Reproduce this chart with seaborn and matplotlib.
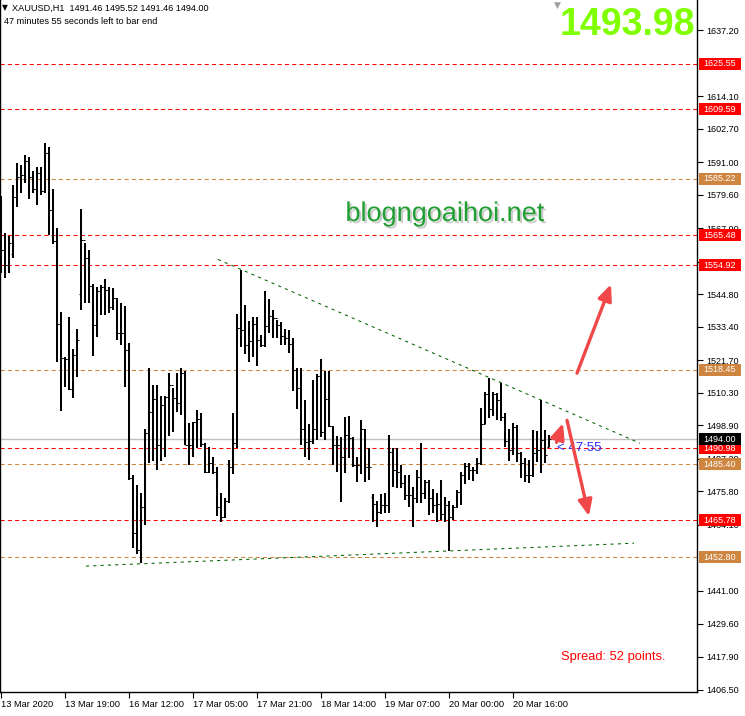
import matplotlib
matplotlib.use("Agg")
import matplotlib.pyplot as plt
import matplotlib.transforms as mtransforms
import matplotlib.patheffects as pe
from matplotlib.patches import Rectangle
import numpy as np
import pandas as pd
import seaborn as sns

# ── Config ──────────────────────────────────────────────────────────────────
W_PX, H_PX = 745, 716
PLOT_W_PX, PLOT_H_PX = 697, 692
PX_PER_USD = 2.858

# ── Data (XAUUSD H1) ────────────────────────────────────────────────────────
OPEN = [
    1554.0, 1560.2, 1555.0, 1559.0, 1578.7, 1585.7, 1586.7, 1591.3, 1585.7, 1581.8,
    1587.1, 1581.1, 1594.4, 1574.2, 1563.3, 1534.3, 1522.4, 1522.0, 1511.6, 1523.4,
    1545.0, 1563.7, 1557.4, 1547.6, 1534.0, 1545.8, 1547.2, 1546.2, 1540.2, 1543.4,
    1531.1, 1531.1, 1525.2, 1480.4, 1461.2, 1455.3, 1470.3, 1496.2, 1503.5, 1508.1,
    1492.0, 1506.0, 1508.8, 1513.0, 1508.4, 1506.7, 1517.2, 1492.0, 1492.0, 1500.0,
    1501.1, 1492.3, 1482.5, 1485.7, 1482.5, 1470.3, 1466.8, 1472.4, 1484.3, 1492.7,
    1532.9, 1532.2, 1527.0, 1528.4, 1534.3, 1528.7, 1527.0, 1533.6, 1537.1, 1536.4,
    1534.0, 1530.1, 1529.4, 1527.3, 1518.2, 1511.9, 1497.6, 1493.0, 1493.4, 1497.6,
    1516.1, 1496.5, 1508.1, 1498.6, 1492.0, 1492.0, 1487.8, 1495.5, 1494.4, 1485.0,
    1485.0, 1497.6, 1484.3, 1473.8, 1471.4, 1468.5, 1471.0, 1471.0, 1489.5, 1483.2,
    1482.5, 1478.7, 1474.5, 1474.5, 1473.4, 1480.8, 1475.2, 1479.1, 1473.4, 1471.0,
    1471.4, 1467.9, 1471.0, 1466.8, 1470.3, 1475.5, 1481.5, 1484.6, 1483.2, 1483.2,
    1485.7, 1499.3, 1509.8, 1504.6, 1509.8, 1507.7, 1501.8, 1493.4, 1490.2, 1498.3,
    1489.2, 1485.7, 1481.5, 1481.5, 1489.2, 1490.2, 1493.7, 1491.46,
]
HIGH = [
    1579.1, 1566.4, 1565.1, 1583.2, 1590.6, 1590.2, 1593.7, 1593.0, 1587.8, 1589.2,
    1589.2, 1597.6, 1596.2, 1581.5, 1567.9, 1538.5, 1522.8, 1536.7, 1525.5, 1532.5,
    1574.8, 1562.6, 1560.2, 1548.3, 1547.2, 1547.9, 1550.0, 1547.2, 1546.9, 1543.4,
    1541.6, 1540.6, 1527.7, 1481.5, 1478.0, 1475.2, 1497.6, 1518.9, 1513.0, 1513.0,
    1509.1, 1509.1, 1517.2, 1511.9, 1517.2, 1518.9, 1517.9, 1499.7, 1500.0, 1504.2,
    1503.2, 1492.7, 1491.3, 1487.8, 1484.3, 1475.2, 1473.4, 1486.7, 1503.2, 1537.8,
    1553.2, 1540.9, 1535.3, 1536.7, 1536.7, 1530.4, 1545.8, 1543.0, 1539.2, 1535.7,
    1535.0, 1532.5, 1532.2, 1529.4, 1518.9, 1518.9, 1507.7, 1499.3, 1514.7, 1516.8,
    1522.0, 1517.9, 1517.9, 1498.8, 1495.1, 1494.8, 1501.8, 1502.1, 1495.0, 1487.8,
    1500.7, 1497.6, 1490.9, 1474.8, 1472.4, 1474.8, 1475.2, 1495.5, 1491.0, 1491.0,
    1485.0, 1481.5, 1481.5, 1477.3, 1483.2, 1492.7, 1479.7, 1479.7, 1476.6, 1475.2,
    1479.7, 1473.8, 1472.4, 1471.0, 1476.2, 1482.5, 1485.7, 1485.7, 1484.3, 1487.4,
    1504.9, 1510.5, 1515.4, 1510.5, 1510.2, 1513.7, 1503.2, 1497.6, 1499.7, 1499.0,
    1489.5, 1487.4, 1486.7, 1497.2, 1496.9, 1507.7, 1497.2, 1495.52,
]
LOW = [
    1552.1, 1550.4, 1552.1, 1557.4, 1575.2, 1580.1, 1583.6, 1578.0, 1580.4, 1576.2,
    1579.7, 1580.1, 1565.4, 1562.3, 1521.0, 1503.9, 1512.3, 1511.2, 1508.4, 1515.8,
    1539.2, 1541.6, 1541.6, 1523.1, 1529.7, 1537.4, 1537.4, 1538.1, 1539.2, 1528.7,
    1527.0, 1512.3, 1479.7, 1456.0, 1453.9, 1450.7, 1464.0, 1485.7, 1486.4, 1483.2,
    1486.4, 1487.8, 1495.1, 1496.5, 1503.5, 1502.5, 1492.0, 1485.0, 1487.8, 1491.0,
    1491.3, 1482.2, 1482.2, 1481.8, 1467.2, 1465.1, 1466.5, 1471.7, 1481.8, 1490.9,
    1526.2, 1523.8, 1521.0, 1522.8, 1519.6, 1526.2, 1526.2, 1531.1, 1529.4, 1529.4,
    1527.0, 1527.0, 1524.2, 1510.9, 1504.6, 1492.0, 1487.8, 1486.7, 1492.5, 1493.7,
    1494.8, 1493.7, 1498.3, 1485.0, 1482.5, 1472.0, 1482.2, 1487.4, 1484.3, 1479.1,
    1481.8, 1479.1, 1479.7, 1465.1, 1463.3, 1468.0, 1468.2, 1468.2, 1477.3, 1477.0,
    1477.0, 1472.7, 1470.3, 1463.3, 1471.7, 1471.7, 1473.1, 1467.5, 1468.2, 1465.1,
    1465.8, 1465.1, 1454.9, 1465.8, 1470.0, 1471.0, 1478.4, 1479.7, 1479.4, 1481.8,
    1485.0, 1499.3, 1501.4, 1502.1, 1500.7, 1500.4, 1491.3, 1486.4, 1488.5, 1486.0,
    1480.4, 1479.1, 1478.7, 1481.0, 1486.0, 1482.2, 1485.7, 1491.46,
]
CLOSE = [
    1560.2, 1555.0, 1562.6, 1578.7, 1585.7, 1586.7, 1591.3, 1585.7, 1581.8, 1587.1,
    1581.1, 1594.4, 1574.2, 1563.3, 1534.3, 1522.4, 1522.0, 1511.6, 1523.4, 1528.7,
    1563.7, 1557.4, 1547.6, 1534.0, 1545.8, 1547.2, 1546.2, 1540.2, 1543.4, 1531.1,
    1531.1, 1525.2, 1480.4, 1461.2, 1455.3, 1470.3, 1496.2, 1503.5, 1508.1, 1492.0,
    1506.0, 1508.8, 1513.0, 1508.4, 1506.7, 1517.2, 1492.0, 1492.0, 1500.0, 1501.1,
    1492.3, 1482.5, 1485.7, 1482.5, 1470.3, 1466.8, 1472.4, 1484.3, 1492.7, 1532.9,
    1532.2, 1527.0, 1528.4, 1534.3, 1528.7, 1527.0, 1533.6, 1537.1, 1536.4, 1534.0,
    1530.1, 1529.4, 1527.3, 1518.2, 1511.9, 1497.6, 1493.0, 1493.4, 1497.6, 1516.1,
    1496.5, 1508.1, 1498.6, 1492.0, 1492.0, 1487.8, 1495.5, 1494.4, 1485.0, 1485.0,
    1497.6, 1484.3, 1484.3, 1471.4, 1468.5, 1471.0, 1471.0, 1489.5, 1483.2, 1482.5,
    1478.7, 1474.5, 1474.5, 1473.4, 1480.8, 1475.2, 1479.1, 1473.4, 1471.0, 1471.4,
    1467.9, 1471.0, 1466.8, 1470.3, 1475.5, 1481.5, 1484.6, 1483.2, 1483.2, 1485.7,
    1499.3, 1509.8, 1504.6, 1509.8, 1507.7, 1501.8, 1493.4, 1490.2, 1498.3, 1489.2,
    1485.7, 1481.5, 1481.5, 1489.2, 1490.2, 1493.7, 1488.5, 1494.00,
]

DATE_POS    = [0, 16, 32, 48, 64, 80, 96, 112, 128]
DATE_LABELS = ["13 Mar 2020", "13 Mar 19:00", "16 Mar 12:00", "17 Mar 05:00",
               "17 Mar 21:00", "18 Mar 14:00", "19 Mar 07:00", "20 Mar 00:00",
               "20 Mar 16:00"]

# scale ticks (the ones right under a price tag are partly hidden, as in MT4)
PRICE_TICKS = [1637.20, 1614.10, 1602.70, 1591.00, 1579.60, 1567.90, 1556.20,
               1544.80, 1533.40, 1521.70, 1510.30, 1498.90, 1487.20, 1475.80,
               1464.10, 1441.00, 1429.60, 1417.90, 1406.50]

RED_LEVELS    = [1625.55, 1609.59, 1565.48, 1554.92, 1490.98, 1465.78]
ORANGE_LEVELS = [1585.22, 1518.45, 1485.40, 1452.80]
BID_PRICE     = 1494.00

# trend lines (bar index, price)
TREND_UP_X = [54.25, 159.75]
TREND_UP_Y = [1557.0, 1492.7]
TREND_LO_X = [21.25, 158.25]
TREND_LO_Y = [1449.7, 1457.7]

# hand-drawn arrows (tail -> head)
ARROW_TAIL_X = [144.0, 138.9, 141.5]
ARROW_TAIL_Y = [1517.2, 1493.0, 1500.7]
ARROW_HEAD_X = [152.5, 140.5, 147.0]
ARROW_HEAD_Y = [1548.3, 1499.7, 1467.2]

HEADER    = "XAUUSD,H1  1491.46 1495.52 1491.46 1494.00"
TIMER     = "47 minutes 55 seconds left to bar end"
PRICE     = "1493.98"
SPREAD    = "Spread: 52 points."
COUNTDOWN = "< 47:55"
WATERMARK = "blogngoaihoi.net"


def fx(px):
    return px / W_PX


def fy(py):
    return 1 - py / H_PX


# ── Plot ─────────────────────────────────────────────────────────────────────
df = pd.DataFrame({"open": OPEN, "high": HIGH, "low": LOW, "close": CLOSE})
df["bar"] = np.arange(len(df))

sns.set_theme(style="white")
plt.rcParams["font.family"] = ["Liberation Sans", "DejaVu Sans"]

fig = plt.figure(figsize=(W_PX / 100, H_PX / 100), dpi=100)
fig.patch.set_facecolor("white")
ax = fig.add_axes([0, (H_PX - PLOT_H_PX) / H_PX, PLOT_W_PX / W_PX, PLOT_H_PX / H_PX])
ax.set_facecolor("white")

y_top = 1625.55 + 63.5 / PX_PER_USD
y_bot = 1625.55 - (PLOT_H_PX - 63.5) / PX_PER_USD
ax.set_xlim(-0.25, (PLOT_W_PX - 1) / 4)
ax.set_ylim(y_bot, y_top)

# horizontal levels
for lv in RED_LEVELS:
    ax.axhline(lv, color="#ff0000", lw=0.75, ls=(0, (4, 3)), zorder=1)
for lv in ORANGE_LEVELS:
    ax.axhline(lv, color="#cd853f", lw=0.75, ls=(0, (4, 3)), zorder=1)
ax.axhline(BID_PRICE, color="#c0c0c0", lw=1.0, zorder=1)

# trend lines
sns.lineplot(x=TREND_UP_X, y=TREND_UP_Y, ax=ax, color="#006400",
             lw=0.75, linestyle=(0, (3, 4)), zorder=2)
sns.lineplot(x=TREND_LO_X, y=TREND_LO_Y, ax=ax, color="#006400",
             lw=0.75, linestyle=(0, (3, 4)), zorder=2)

# OHLC bars
ax.vlines(df["bar"], df["low"], df["high"], color="black", lw=1.45, zorder=3)
ax.hlines(df["open"], df["bar"] - 0.6, df["bar"], color="black", lw=0.75, zorder=3)
ax.hlines(df["close"], df["bar"], df["bar"] + 0.6, color="black", lw=0.75, zorder=3)

# axes styling
ax.grid(False)
for side in ["left", "right", "bottom"]:
    ax.spines[side].set_visible(True)
    ax.spines[side].set_color("black")
    ax.spines[side].set_linewidth(1.0)
ax.spines["top"].set_visible(False)

ax.yaxis.tick_right()
ax.set_yticks(PRICE_TICKS)
ax.set_yticklabels([f"{v:.2f}" for v in PRICE_TICKS])
ax.tick_params(axis="y", right=True, left=False, direction="out", length=4,
               width=0.8, labelsize=6.5, pad=3, colors="black")
ax.set_xticks(DATE_POS)
ax.set_xticklabels(DATE_LABELS)
ax.tick_params(axis="x", bottom=True, direction="out", length=4, width=0.8,
               labelsize=6.7, pad=2, colors="black")
for lbl in ax.get_xticklabels():
    lbl.set_ha("left")
ax.set_xlabel("")
ax.set_ylabel("")

# price tags on the right scale
trans = mtransforms.blended_transform_factory(ax.transAxes, ax.transData)
box_w = 42 / PLOT_W_PX
box_h = 12 / PX_PER_USD


def level_tag(value, color):
    ax.add_patch(Rectangle((1.0 + 1.5 / PLOT_W_PX, value - box_h / 2), box_w, box_h,
                           transform=trans, facecolor=color, edgecolor="none",
                           clip_on=False, zorder=5))
    ax.text(1.0 + 1.5 / PLOT_W_PX + box_w / 2, value, f"{value:.2f}", transform=trans,
            ha="center", va="center", color="white", fontsize=6.5,
            clip_on=False, zorder=6)


for lv in RED_LEVELS:
    level_tag(lv, "#ff0000")
for lv in ORANGE_LEVELS:
    level_tag(lv, "#cd853f")
level_tag(BID_PRICE, "#000000")

# arrows
for tx, ty, hx, hy in zip(ARROW_TAIL_X, ARROW_TAIL_Y, ARROW_HEAD_X, ARROW_HEAD_Y):
    ax.annotate("", xy=(hx, hy), xytext=(tx, ty),
                arrowprops=dict(arrowstyle="-|>,head_length=0.8,head_width=0.35",
                                color="#f04848", lw=2.4, shrinkA=0, shrinkB=0,
                                mutation_scale=12),
                zorder=8)

# texts
ax.text(fx(557), fy(448), COUNTDOWN, transform=fig.transFigure, ha="left",
        va="center", fontsize=9.5, color="#2a2aff", zorder=7)
ax.text(fx(561), fy(657), SPREAD, transform=fig.transFigure, ha="left",
        va="center", fontsize=9.3, color="#ff0000", zorder=7)
ax.text(fx(445), fy(214), WATERMARK, transform=fig.transFigure, ha="center",
        va="center", fontsize=19.5, color="#1f9e32", zorder=7,
        path_effects=[pe.SimplePatchShadow(offset=(1.5, -1.5), shadow_rgbFace="#999999",
                                           alpha=0.5), pe.Normal()])
ax.text(fx(695), fy(25), PRICE, transform=fig.transFigure, ha="right",
        va="center", fontsize=27, fontweight="bold", color="#80ff00", zorder=7)

fig.text(fx(2), fy(8), "\u25bc", ha="left", va="center", fontsize=5.5,
         color="black", family=["DejaVu Sans"])
fig.text(fx(12), fy(8), HEADER, ha="left", va="center", fontsize=6.6, color="black")
fig.text(fx(4), fy(22), TIMER, ha="left", va="center", fontsize=6.6, color="black")
fig.text(fx(557), fy(5), "\u25bc", ha="center", va="center", fontsize=6.5,
         color="#a0a0a0", family=["DejaVu Sans"])

fig.savefig("out.png", dpi=100, facecolor="white")
